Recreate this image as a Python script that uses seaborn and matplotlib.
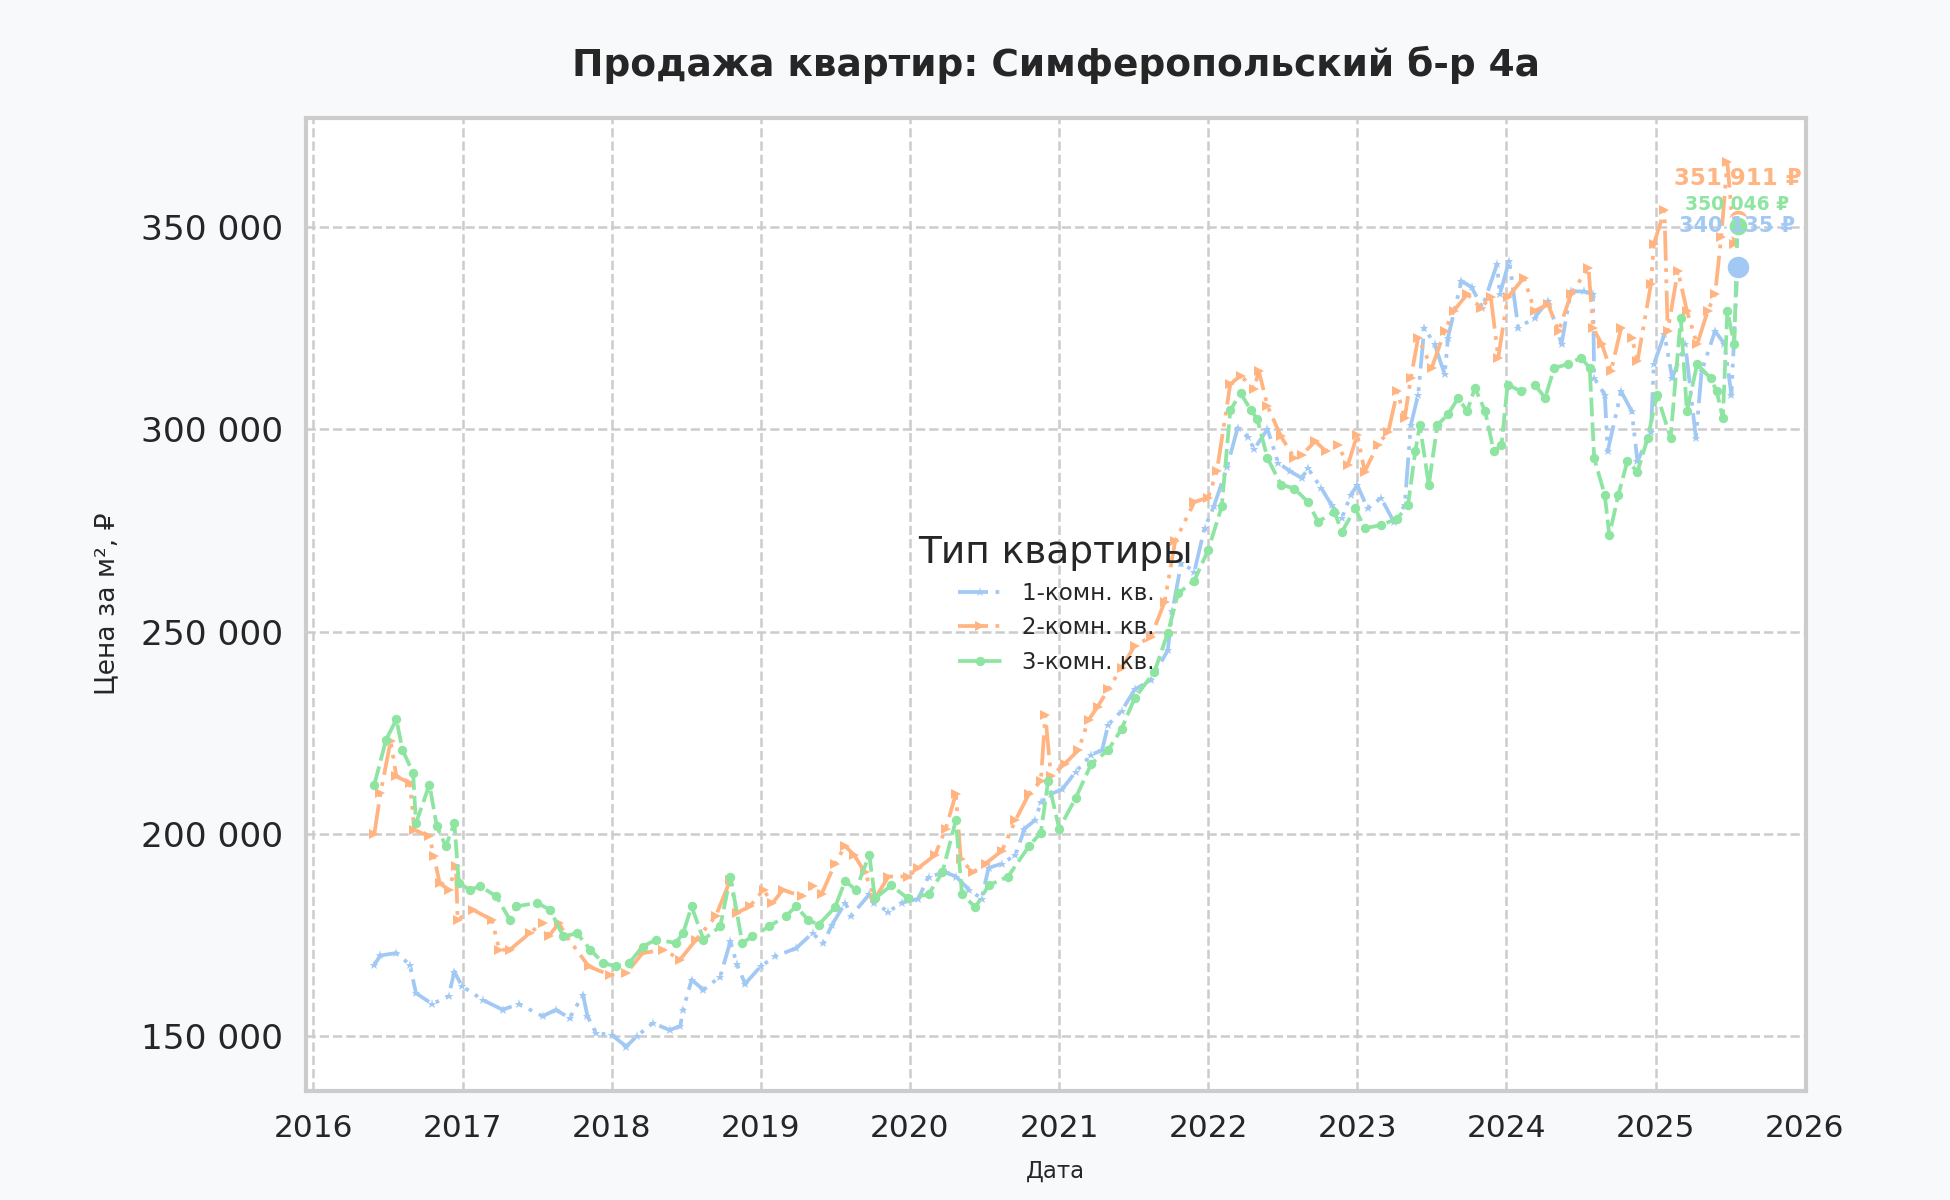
import pandas as pd
import matplotlib
matplotlib.use('Agg')
import matplotlib.pyplot as plt
import matplotlib.dates as mdates
from matplotlib.ticker import MultipleLocator, FuncFormatter
import seaborn as sns

# Цена за м2 (тыс. руб.) по типам квартир
dates_1k = ['2016-05-30', '2016-06-14', '2016-07-23', '2016-08-25', '2016-09-09', '2016-10-19',
            '2016-11-28', '2016-12-12', '2016-12-31', '2017-02-20', '2017-04-09', '2017-05-19',
            '2017-07-16', '2017-08-18', '2017-09-20', '2017-10-23', '2017-11-03', '2017-11-24',
            '2018-01-01', '2018-02-06', '2018-03-03', '2018-04-12', '2018-05-23', '2018-06-18',
            '2018-06-25', '2018-07-16', '2018-08-14', '2018-09-24', '2018-10-19', '2018-11-03',
            '2018-11-24', '2019-01-01', '2019-02-06', '2019-03-29', '2019-05-08', '2019-06-03',
            '2019-06-25', '2019-07-27', '2019-08-11', '2019-09-24', '2019-10-05', '2019-11-10',
            '2019-12-12', '2020-01-22', '2020-02-16', '2020-03-29', '2020-04-23', '2020-05-26',
            '2020-06-25', '2020-07-12', '2020-08-14', '2020-09-16', '2020-10-08', '2020-11-03',
            '2020-11-17', '2020-12-12', '2021-01-08', '2021-02-10', '2021-03-21', '2021-04-16',
            '2021-05-01', '2021-06-03', '2021-07-05', '2021-08-14', '2021-09-24', '2021-10-05',
            '2021-10-27', '2021-11-28', '2021-12-23', '2022-01-15', '2022-02-16', '2022-03-14',
            '2022-04-09', '2022-04-23', '2022-05-26', '2022-06-21', '2022-07-20', '2022-08-18',
            '2022-09-02', '2022-10-05', '2022-10-30', '2022-11-24', '2022-12-16', '2023-01-01',
            '2023-01-26', '2023-02-28', '2023-04-01', '2023-04-27', '2023-05-12', '2023-05-30',
            '2023-06-14', '2023-07-09', '2023-08-03', '2023-08-11', '2023-09-13', '2023-10-08',
            '2023-11-03', '2023-12-09', '2023-12-16', '2024-01-08', '2024-01-30', '2024-03-10',
            '2024-04-12', '2024-05-15', '2024-06-07', '2024-07-09', '2024-07-31', '2024-08-03',
            '2024-08-29', '2024-09-05', '2024-10-08', '2024-11-03', '2024-11-17', '2024-12-20',
            '2024-12-27', '2025-01-22', '2025-02-10', '2025-03-14', '2025-04-09', '2025-04-23',
            '2025-05-26', '2025-06-18', '2025-07-05', '2025-07-20']
price_1k = [167.7, 170.0, 170.6, 167.7, 160.7, 158.0,
            160.0, 166.0, 162.4, 159.0, 156.6, 158.0,
            155.0, 156.6, 154.5, 160.3, 155.0, 150.8,
            150.4, 147.5, 150.0, 153.3, 151.6, 152.5,
            156.6, 164.0, 161.5, 164.8, 173.5, 168.0,
            163.0, 167.3, 169.8, 171.8, 175.5, 173.0,
            177.6, 183.0, 179.8, 185.1, 183.0, 180.8,
            183.0, 184.0, 189.5, 190.5, 189.5, 186.2,
            184.0, 191.6, 192.7, 194.8, 201.3, 203.4,
            207.8, 209.9, 211.0, 215.3, 219.6, 220.7,
            227.0, 230.4, 235.7, 238.0, 245.4, 255.0,
            267.0, 264.8, 275.6, 281.0, 290.6, 300.3,
            298.0, 295.0, 300.0, 291.7, 289.6, 287.9,
            290.3, 285.4, 281.2, 278.0, 283.7, 286.2,
            280.4, 283.0, 277.0, 281.2, 301.0, 308.5,
            325.0, 321.0, 313.5, 322.6, 336.6, 335.0,
            330.0, 340.7, 333.3, 341.6, 325.0, 327.5,
            331.7, 321.0, 334.0, 334.0, 333.3, 312.6,
            308.5, 294.5, 309.3, 304.4, 292.0, 299.4,
            316.0, 323.4, 312.6, 321.0, 297.8, 314.3,
            324.2, 321.0, 308.5, 340.135]

dates_2k = ['2016-05-30', '2016-06-14', '2016-07-09', '2016-07-23', '2016-08-25', '2016-09-05',
            '2016-10-12', '2016-10-23', '2016-11-06', '2016-11-28', '2016-12-16', '2016-12-20',
            '2017-01-26', '2017-03-14', '2017-04-01', '2017-04-27', '2017-06-14', '2017-07-16',
            '2017-07-31', '2017-08-25', '2017-09-13', '2017-11-06', '2017-12-27', '2018-02-06',
            '2018-03-18', '2018-05-08', '2018-06-18', '2018-07-27', '2018-09-13', '2018-10-19',
            '2018-11-03', '2018-12-05', '2019-01-08', '2019-01-30', '2019-02-24', '2019-04-12',
            '2019-05-08', '2019-05-30', '2019-07-02', '2019-07-27', '2019-08-18', '2019-09-13',
            '2019-10-08', '2019-11-10', '2019-12-27', '2020-01-22', '2020-03-03', '2020-03-29',
            '2020-04-23', '2020-05-05', '2020-06-03', '2020-07-05', '2020-08-14', '2020-09-16',
            '2020-10-19', '2020-11-17', '2020-11-28', '2020-12-12', '2021-01-15', '2021-02-17',
            '2021-03-14', '2021-04-05', '2021-05-01', '2021-06-03', '2021-07-05', '2021-08-14',
            '2021-09-16', '2021-10-12', '2021-11-28', '2022-01-01', '2022-01-22', '2022-02-24',
            '2022-03-21', '2022-04-23', '2022-05-05', '2022-05-26', '2022-06-28', '2022-07-31',
            '2022-08-18', '2022-09-20', '2022-10-16', '2022-11-14', '2022-12-09', '2023-01-01',
            '2023-01-19', '2023-02-20', '2023-03-18', '2023-04-09', '2023-04-27', '2023-05-12',
            '2023-05-30', '2023-07-02', '2023-08-03', '2023-08-25', '2023-09-27', '2023-10-30',
            '2023-11-24', '2023-12-12', '2024-01-04', '2024-02-13', '2024-03-10', '2024-04-12',
            '2024-05-08', '2024-06-07', '2024-07-20', '2024-07-31', '2024-08-22', '2024-09-13',
            '2024-10-08', '2024-11-03', '2024-11-17', '2024-12-20', '2024-12-27', '2025-01-22',
            '2025-01-30', '2025-02-24', '2025-03-18', '2025-04-12', '2025-05-08', '2025-05-26',
            '2025-06-10', '2025-06-25', '2025-07-12', '2025-07-20']
price_2k = [200.0, 210.0, 223.0, 214.2, 212.6, 201.0,
            199.4, 194.5, 187.9, 186.2, 192.0, 178.8,
            181.3, 178.8, 171.4, 171.4, 175.5, 178.0,
            174.7, 178.0, 174.7, 167.3, 165.2, 165.6,
            170.6, 171.4, 169.0, 173.9, 179.7, 188.7,
            180.5, 182.1, 186.2, 182.9, 186.2, 184.6,
            187.1, 185.1, 192.7, 197.0, 194.8, 190.5,
            184.1, 189.5, 189.5, 191.6, 194.8, 201.3,
            209.9, 193.8, 190.5, 192.7, 195.9, 203.4,
            209.9, 213.1, 229.3, 214.2, 217.4, 220.7,
            228.2, 231.4, 235.7, 241.1, 246.5, 248.7,
            257.3, 272.3, 282.0, 283.1, 289.6, 311.1,
            313.2, 310.0, 314.3, 305.7, 298.2, 292.8,
            293.6, 297.0, 294.5, 296.1, 291.2, 298.6,
            289.5, 296.1, 299.4, 309.3, 302.7, 312.6,
            322.6, 315.1, 324.2, 329.2, 333.3, 330.0,
            332.5, 317.6, 332.5, 337.4, 329.2, 330.8,
            324.2, 333.3, 339.9, 325.0, 320.9, 314.3,
            325.0, 322.6, 316.8, 335.8, 345.7, 354.0,
            324.2, 339.1, 329.2, 320.9, 329.2, 333.3,
            347.4, 366.0, 345.7, 351.911]

dates_3k = ['2016-05-30', '2016-06-28', '2016-07-23', '2016-08-07', '2016-09-02', '2016-09-09',
            '2016-10-12', '2016-10-30', '2016-11-21', '2016-12-12', '2016-12-23', '2017-01-19',
            '2017-02-13', '2017-03-25', '2017-04-27', '2017-05-12', '2017-07-02', '2017-08-03',
            '2017-09-05', '2017-10-08', '2017-11-10', '2017-12-12', '2018-01-12', '2018-02-13',
            '2018-03-18', '2018-04-20', '2018-06-07', '2018-06-25', '2018-07-16', '2018-08-14',
            '2018-09-24', '2018-10-19', '2018-11-17', '2018-12-12', '2019-01-22', '2019-03-03',
            '2019-03-29', '2019-04-27', '2019-05-23', '2019-07-02', '2019-07-27', '2019-08-22',
            '2019-09-24', '2019-10-08', '2019-11-17', '2019-12-27', '2020-02-16', '2020-03-21',
            '2020-04-23', '2020-05-08', '2020-06-10', '2020-07-12', '2020-08-29', '2020-10-19',
            '2020-11-17', '2020-12-05', '2021-01-01', '2021-02-10', '2021-03-21', '2021-05-01',
            '2021-06-03', '2021-07-05', '2021-08-22', '2021-09-24', '2021-10-19', '2021-11-28',
            '2022-01-01', '2022-02-03', '2022-02-24', '2022-03-21', '2022-04-16', '2022-05-01',
            '2022-05-26', '2022-06-28', '2022-07-31', '2022-09-02', '2022-09-27', '2022-11-06',
            '2022-11-24', '2022-12-27', '2023-01-19', '2023-02-28', '2023-04-09', '2023-05-05',
            '2023-05-23', '2023-06-03', '2023-06-25', '2023-07-16', '2023-08-11', '2023-09-05',
            '2023-09-27', '2023-10-16', '2023-11-10', '2023-12-01', '2023-12-20', '2024-01-04',
            '2024-02-06', '2024-03-10', '2024-04-05', '2024-04-27', '2024-05-30', '2024-07-02',
            '2024-07-23', '2024-08-03', '2024-08-29', '2024-09-09', '2024-10-01', '2024-10-23',
            '2024-11-17', '2024-12-12', '2025-01-04', '2025-02-06', '2025-03-03', '2025-03-18',
            '2025-04-12', '2025-05-15', '2025-05-30', '2025-06-14', '2025-06-25', '2025-07-12',
            '2025-07-20']
price_3k = [212.2, 223.3, 228.3, 220.8, 215.0, 202.7,
            212.2, 201.9, 197.0, 202.7, 187.9, 186.2,
            187.1, 184.6, 178.8, 182.1, 183.0, 181.3,
            174.7, 175.5, 171.4, 168.1, 167.3, 168.1,
            172.2, 173.9, 173.1, 175.5, 182.1, 173.9,
            177.2, 189.5, 173.1, 174.7, 177.2, 179.7,
            182.1, 178.8, 177.6, 181.9, 188.4, 186.2,
            194.8, 184.1, 187.3, 184.1, 185.1, 190.5,
            203.4, 185.1, 181.9, 187.3, 189.5, 197.0,
            200.3, 213.1, 201.3, 208.8, 217.4, 220.7,
            226.0, 233.6, 240.0, 249.7, 259.4, 262.6,
            270.2, 280.9, 304.6, 308.9, 304.6, 302.5,
            292.8, 286.3, 285.3, 282.0, 277.1, 279.6,
            274.6, 280.4, 275.5, 276.3, 277.9, 281.2,
            294.5, 301.0, 286.2, 301.0, 303.6, 307.7,
            304.4, 310.2, 304.4, 294.5, 296.1, 311.0,
            309.3, 311.0, 307.7, 315.1, 316.0, 317.6,
            315.1, 292.8, 283.7, 273.8, 283.7, 292.0,
            289.5, 297.8, 308.5, 297.8, 327.5, 304.4,
            316.0, 312.6, 309.3, 302.7, 329.2, 321.0,
            350.046]

room_types = ['1-комн. кв.', '2-комн. кв.', '3-комн. кв.']
colors = ['#a1c9f4', '#ffb482', '#8de5a1']

frames = []
for name, d, p in zip(room_types, [dates_1k, dates_2k, dates_3k], [price_1k, price_2k, price_3k]):
    frames.append(pd.DataFrame({'Дата': pd.to_datetime(d),
                                'Цена': [v * 1000 for v in p],
                                'Тип квартиры': name}))
df = pd.concat(frames, ignore_index=True)

sns.set_theme(style='whitegrid')
plt.rcParams['font.family'] = ['DejaVu Sans']

fig, ax = plt.subplots(figsize=(13, 8), dpi=150)
fig.patch.set_facecolor('#f8f9fb')
ax.set_facecolor('white')

palette = dict(zip(room_types, colors))
sns.lineplot(data=df, x='Дата', y='Цена', hue='Тип квартиры', style='Тип квартиры',
             hue_order=room_types, style_order=room_types, palette=palette,
             dashes={'1-комн. кв.': (8, 2, 1, 2, 1, 2),
                     '2-комн. кв.': (8, 2, 1, 2, 1, 2),
                     '3-комн. кв.': (5, 1.6)},
             markers={'1-комн. кв.': '*', '2-комн. кв.': '>', '3-комн. кв.': 'o'},
             markersize=4.5, markeredgewidth=0, linewidth=1.8, estimator=None, ax=ax)

# последние точки и подписи
last_sizes = {'1-комн. кв.': 140, '2-комн. кв.': 100, '3-комн. кв.': 100}
text_sizes = {'1-комн. кв.': 10, '2-комн. кв.': 11, '3-комн. кв.': 9}
text_offsets = {'1-комн. кв.': 19.5, '2-комн. кв.': 19.5, '3-комн. кв.': 10.5}
for name in ['2-комн. кв.', '3-комн. кв.', '1-комн. кв.']:
    last = df[df['Тип квартиры'] == name].iloc[-1]
    ax.scatter([last['Дата']], [last['Цена']], s=last_sizes[name], color=palette[name],
               edgecolor='white', linewidth=1.5, zorder=5)
    label = f"{last['Цена']:,.0f}".replace(',', ' ') + ' ₽'
    ax.annotate(label, (last['Дата'], last['Цена']), xytext=(0, text_offsets[name]),
                textcoords='offset points', ha='center', va='center',
                fontsize=text_sizes[name], fontweight='bold', color=palette[name], zorder=6)

ax.set_title('Продажа квартир: Симферопольский б-р 4а', fontsize=18, fontweight='bold',
             color='#262626', pad=20)
ax.set_xlabel('Дата', fontsize=11, labelpad=8)
ax.set_ylabel('Цена за м², ₽', fontsize=12.8, labelpad=10)

ax.yaxis.set_major_locator(MultipleLocator(50000))
ax.yaxis.set_major_formatter(FuncFormatter(lambda v, pos: f'{v:,.0f}'.replace(',', ' ')))
ax.xaxis.set_major_locator(mdates.YearLocator())
ax.xaxis.set_major_formatter(mdates.DateFormatter('%Y'))
ax.tick_params(axis='both', length=0, pad=11, colors='#262626')
ax.tick_params(axis='x', labelsize=15)
ax.tick_params(axis='y', labelsize=16.5)

ax.grid(True, linestyle='--', color='#cccccc', linewidth=1.2)
for s in ax.spines.values():
    s.set_color('#cccccc')
    s.set_linewidth(2)

sns.move_legend(ax, 'center', title='Тип квартиры', frameon=False, fontsize=11,
                title_fontsize=18)

fig.subplots_adjust(left=0.157, right=0.926, top=0.902, bottom=0.091)
fig.savefig('out.png', dpi=150, facecolor=fig.get_facecolor())
